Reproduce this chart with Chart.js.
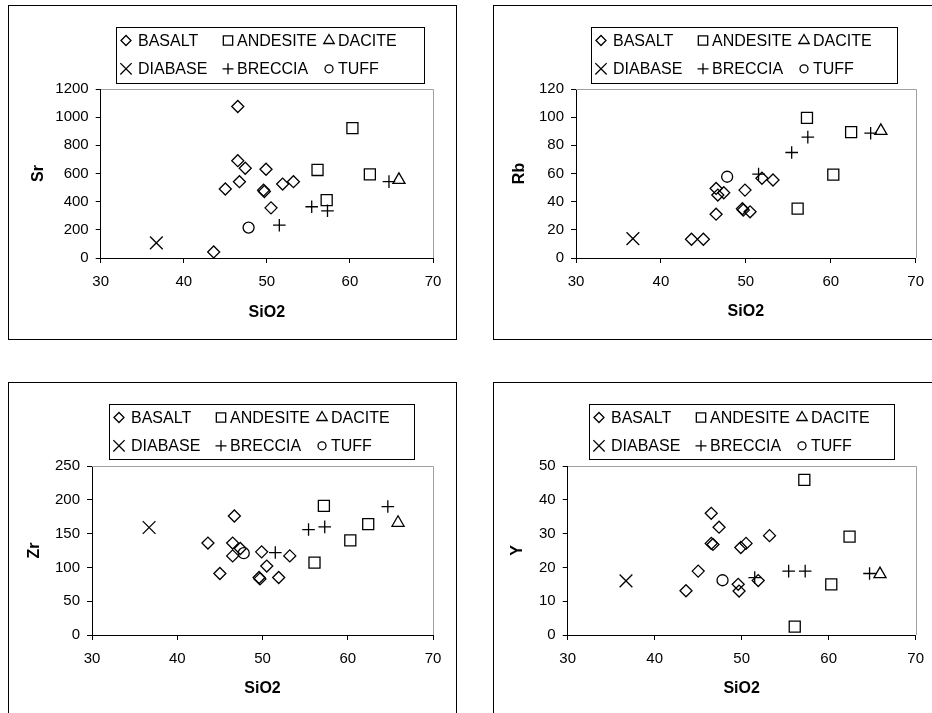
<!DOCTYPE html>
<html><head><meta charset="utf-8">
<script src="https://cdn.jsdelivr.net/npm/chart.js@4.4.1/dist/chart.umd.min.js"></script>
<style>
html,body{margin:0;padding:0;background:#fff;width:932px;height:713px;overflow:hidden;position:relative}
.frame{position:absolute;box-sizing:border-box;border:1px solid #000;pointer-events:none}
canvas{position:absolute}
</style></head><body>
<script>
// ---------- DATA ----------
const rockTypes = ['BASALT','ANDESITE','DACITE','DIABASE','BRECCIA','TUFF'];
const elementNames = ['Sr','Rb','Zr','Y'];

const basaltSiO2   = [43.6, 45.0, 46.5, 46.5, 46.7, 47.4, 49.6, 49.7, 49.9, 50.5, 51.9, 53.2];
const andesiteSiO2 = [56.1, 57.2, 60.3, 62.4];
const daciteSiO2   = [65.9];
const diabaseSiO2  = [36.7];
const brecciaSiO2  = [51.5, 55.4, 57.3, 64.7];
const tuffSiO2     = [47.8];

const basaltSr   = [43, 490, 1076, 691, 542, 637, 482, 472, 630, 356, 525, 542];
const andesiteSr = [625, 411, 922, 594];
const daciteSr   = [555];
const diabaseSr  = [107];
const brecciaSr  = [233, 364, 335, 542];
const tuffSr     = [216];

const basaltRb   = [13.3, 13.3, 49.4, 31.1, 44.7, 46.3, 35, 34, 48.2, 32.8, 56.6, 55.4];
const andesiteRb = [35, 99.5, 59.2, 89.4];
const daciteRb   = [90.3];
const diabaseRb  = [13.8];
const brecciaRb  = [59.6, 74.9, 85.8, 88.6];
const tuffRb     = [57.7];

const basaltZr   = [136, 91, 136, 117, 176, 128, 85, 83, 123, 102, 85, 117];
const andesiteZr = [107, 191, 140, 164];
const daciteZr   = [166];
const diabaseZr  = [159];
const brecciaZr  = [122, 156, 160, 190];
const tuffZr     = [121];

const basaltY   = [13.1, 18.9, 36.0, 27.1, 26.8, 31.9, 15.0, 13.0, 25.9, 27.1, 16.1, 29.4];
const andesiteY = [2.5, 45.9, 15.0, 29.1];
const daciteY   = [18];
const diabaseY  = [16];
const brecciaY  = [17, 18.9, 18.9, 18.2];
const tuffY     = [16.2];

// axis ranges: [min, max, step]
const sio2Axis = [30, 70, 10];
const srAxis = [0, 1200, 200];
const rbAxis = [0, 120, 20];
const zrAxis = [0, 250, 50];
const yAxis  = [0, 50, 10];

// ---------- ASSEMBLY ----------
const siO2ByRock = [basaltSiO2, andesiteSiO2, daciteSiO2, diabaseSiO2, brecciaSiO2, tuffSiO2];
const valuesByElement = {
  Sr: [basaltSr, andesiteSr, daciteSr, diabaseSr, brecciaSr, tuffSr],
  Rb: [basaltRb, andesiteRb, daciteRb, diabaseRb, brecciaRb, tuffRb],
  Zr: [basaltZr, andesiteZr, daciteZr, diabaseZr, brecciaZr, tuffZr],
  Y:  [basaltY, andesiteY, daciteY, diabaseY, brecciaY, tuffY]
};
const axisByElement = {Sr: srAxis, Rb: rbAxis, Zr: zrAxis, Y: yAxis};

const markerStyles = [
  {pointStyle:'rectRot',  radius:6,   legendRadius:5},
  {pointStyle:'rect',     radius:7.8, legendRadius:6.6},
  {pointStyle:'triangle', radius:7,   legendRadius:6},
  {pointStyle:'crossRot', radius:9,   legendRadius:8},
  {pointStyle:'cross',    radius:6.3, legendRadius:5.5},
  {pointStyle:'circle',   radius:5.5, legendRadius:4}
];

// layout (page coords): box, plot area [l,t,r,b], title centres, legend box
const panelLayout = {
  Sr: {box:[8,5,449,335],   plot:[100.7,89,433,258],  yTitleX:38.3,  xTitleY:312.3, legend:[116,27,308,56]},
  Rb: {box:[493,5,441,335], plot:[576,89,919.3,258],  yTitleX:519.3, xTitleY:311.7, legend:[591,27,306,56]},
  Zr: {box:[8,382,449,335], plot:[92,466,433,635],    yTitleX:35,    xTitleY:688.3, legend:[109,404,305,55]},
  Y:  {box:[493,382,441,335], plot:[567.7,466,918,635], yTitleX:517.7, xTitleY:688.3, legend:[589,404,305,55]}
};

const FONT = '"Liberation Sans", Arial, Helvetica, sans-serif';
Chart.defaults.font.family = FONT;
Chart.defaults.color = '#000';

function drawMarker(ctx, style, radius, x, y){
  const H = Chart.helpers;
  ctx.strokeStyle = '#000';
  ctx.fillStyle = 'rgba(0,0,0,0)';
  ctx.lineWidth = 1.3;
  H.drawPoint(ctx, {pointStyle: style, radius: radius, borderWidth: 1.3, rotation: 0}, x, y);
}

const rockLegend = {
  id: 'rockLegend',
  afterDraw(chart, args, opts){
    const ctx = chart.ctx;
    ctx.save();
    ctx.strokeStyle = '#000'; ctx.lineWidth = 1;
    ctx.strokeRect(Math.round(opts.x)+0.5, Math.round(opts.y)+0.5, Math.round(opts.w), Math.round(opts.h));
    const colMarker = [10, 112, 213], colText = [22, 121, 222], rowY = [13.5, 41.8];
    chart.data.datasets.forEach((ds, i) => {
      const r = Math.floor(i/3), c = i % 3;
      const cy = opts.y + rowY[r];
      drawMarker(ctx, ds.pointStyle, ds.legendRadius, opts.x + colMarker[c], cy);
      ctx.fillStyle = '#000';
      ctx.font = '16px ' + FONT;
      ctx.textBaseline = 'middle'; ctx.textAlign = 'left';
      ctx.fillText(ds.label, opts.x + colText[c], cy + 1);
    });
    ctx.restore();
  }
};

const plotFrame = {
  id: 'plotFrame',
  beforeDatasetsDraw(chart){
    const {ctx, chartArea:{left, top, right, bottom}} = chart;
    ctx.save();
    ctx.strokeStyle = '#a0a0a0'; ctx.lineWidth = 1;
    ctx.beginPath();
    ctx.moveTo(Math.round(left), Math.round(top)+0.5);
    ctx.lineTo(Math.round(right)+0.5, Math.round(top)+0.5);
    ctx.lineTo(Math.round(right)+0.5, Math.round(bottom));
    ctx.stroke();
    ctx.restore();
  }
};

const plainTick = v => String(v);

elementNames.forEach(el => {
  const L = panelLayout[el];
  const [bx, by, bw, bh] = L.box;
  const canvas = document.createElement('canvas');
  canvas.width = bw; canvas.height = bh;
  canvas.style.left = bx + 'px'; canvas.style.top = by + 'px';
  canvas.style.width = bw + 'px'; canvas.style.height = bh + 'px';
  document.body.appendChild(canvas);
  const fr = document.createElement('div');
  fr.className = 'frame';
  fr.style.left = bx + 'px'; fr.style.top = by + 'px';
  fr.style.width = bw + 'px'; fr.style.height = bh + 'px';
  document.body.appendChild(fr);

  const pl = L.plot[0] - bx, pt = L.plot[1] - by, pr = L.plot[2] - bx, pb = L.plot[3] - by;
  const titleLH = 16 * 1.2;
  const yTitlePad = (L.yTitleX - bx) - titleLH/2;
  const xTitlePad = bh - (L.xTitleY - by) - titleLH/2;
  const ax = axisByElement[el];

  const datasets = rockTypes.map((name, i) => ({
    label: name,
    data: siO2ByRock[i].map((s, k) => ({x: s, y: valuesByElement[el][i][k]})),
    pointStyle: markerStyles[i].pointStyle,
    pointRadius: markerStyles[i].radius,
    legendRadius: markerStyles[i].legendRadius,
    pointBorderColor: '#000',
    pointBackgroundColor: 'rgba(0,0,0,0)',
    pointBorderWidth: 1.3,
    showLine: false
  }));

  new Chart(canvas, {
    type: 'scatter',
    data: {datasets},
    plugins: [plotFrame, rockLegend],
    options: {
      responsive: false,
      animation: false,
      devicePixelRatio: 1,
      layout: {padding: {left: 0, top: pt, right: bw - pr, bottom: 0}},
      plugins: {
        legend: {display: false},
        tooltip: {enabled: false},
        rockLegend: {x: L.legend[0]-bx, y: L.legend[1]-by, w: L.legend[2], h: L.legend[3]}
      },
      scales: {
        x: {
          type: 'linear', position: 'bottom',
          min: sio2Axis[0], max: sio2Axis[1],
          ticks: {stepSize: sio2Axis[2], padding: 10, color: '#000', font: {size: 15}, callback: plainTick},
          grid: {display: true, drawOnChartArea: false, drawTicks: true, tickLength: 5, color: '#000', lineWidth: 1},
          border: {display: true, color: '#000', width: 1},
          title: {display: true, text: 'SiO2', color: '#000', font: {size: 16, weight: 'bold'}, padding: {top: 0, bottom: xTitlePad}},
          afterFit(s){ s.height = bh - pb; }
        },
        y: {
          type: 'linear', position: 'left',
          min: ax[0], max: ax[1],
          ticks: {stepSize: ax[2], padding: 7, color: '#000', font: {size: 15}, callback: plainTick},
          grid: {display: true, drawOnChartArea: false, drawTicks: true, tickLength: 5, color: '#000', lineWidth: 1},
          border: {display: true, color: '#000', width: 1},
          title: {display: true, text: el, color: '#000', font: {size: 16, weight: 'bold'}, padding: {top: yTitlePad, bottom: 0}},
          afterFit(s){ s.width = pl; }
        }
      }
    }
  });
});
</script>
</body></html>
